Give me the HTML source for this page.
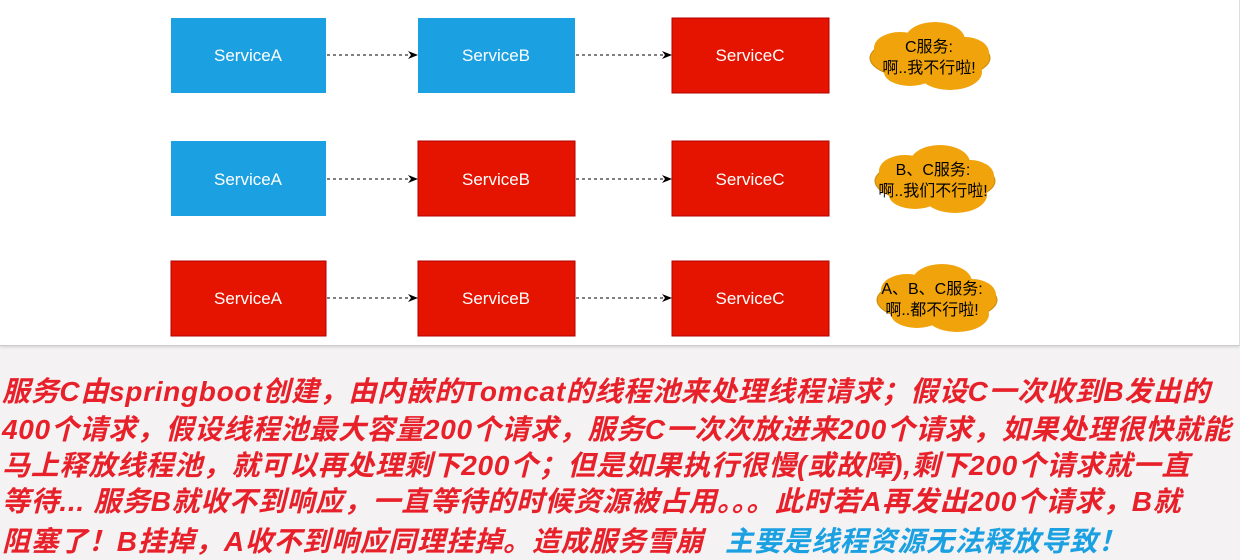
<!DOCTYPE html>
<html><head><meta charset="utf-8"><style>
body{margin:0;width:1240px;height:560px;background:#f4f2f3;overflow:hidden;position:relative;font-family:"Liberation Sans","Noto Sans CJK SC",sans-serif}
.top{position:absolute;left:0;top:0;width:1239px;height:345px;background:#fff;border-right:1px solid #ddd;border-bottom:1px solid #ccc;box-shadow:0 1px 3px rgba(0,0,0,.15)}
.l{position:absolute;left:2px;white-space:nowrap;font-size:28px;font-weight:bold;font-style:italic;color:#e8202a;line-height:36px;font-family:"Liberation Sans","Noto Sans CJK SC",sans-serif;letter-spacing:0.7px}
.b{color:#1ba1e2}
</style></head><body>
<div class="top">
<svg width="1240" height="345" xmlns="http://www.w3.org/2000/svg" font-family="Liberation Sans, Noto Sans CJK SC, sans-serif">
<defs><marker id="a" markerWidth="10" markerHeight="10" refX="9" refY="5" orient="auto" markerUnits="userSpaceOnUse"><path d="M0,1 L10,5 L0,9 L3,5 Z" fill="#000"/></marker>
<g id="cl"><ellipse cx="0" cy="0" rx="60" ry="22" fill="#f0a30a" stroke="#c98a08"/><ellipse cx="-30" cy="-10" rx="26" ry="16" fill="#f0a30a"/><ellipse cx="5" cy="-18" rx="30" ry="18" fill="#f0a30a"/><ellipse cx="35" cy="-5" rx="24" ry="16" fill="#f0a30a"/><ellipse cx="-20" cy="14" rx="26" ry="14" fill="#f0a30a"/><ellipse cx="20" cy="14" rx="32" ry="18" fill="#f0a30a"/></g></defs>
<g font-size="17" fill="#fff" text-anchor="middle">
<rect x="171" y="18" width="155" height="75" fill="#1ba1e2"/><text x="248" y="61">ServiceA</text>
<rect x="418" y="18" width="157" height="75" fill="#1ba1e2"/><text x="496" y="61">ServiceB</text>
<rect x="672" y="18" width="157" height="75" fill="#e51400" stroke="#b20000"/><text x="750" y="61">ServiceC</text>
<rect x="171" y="141" width="155" height="75" fill="#1ba1e2"/><text x="248" y="185">ServiceA</text>
<rect x="418" y="141" width="157" height="75" fill="#e51400" stroke="#b20000"/><text x="496" y="185">ServiceB</text>
<rect x="672" y="141" width="157" height="75" fill="#e51400" stroke="#b20000"/><text x="750" y="185">ServiceC</text>
<rect x="171" y="261" width="155" height="75" fill="#e51400" stroke="#b20000"/><text x="248" y="304">ServiceA</text>
<rect x="418" y="261" width="157" height="75" fill="#e51400" stroke="#b20000"/><text x="496" y="304">ServiceB</text>
<rect x="672" y="261" width="157" height="75" fill="#e51400" stroke="#b20000"/><text x="750" y="304">ServiceC</text>
</g>
<g stroke="#000" stroke-dasharray="3,3" marker-end="url(#a)">
<line x1="327" y1="55" x2="417" y2="55"/><line x1="576" y1="55" x2="671" y2="55"/>
<line x1="327" y1="179" x2="417" y2="179"/><line x1="576" y1="179" x2="671" y2="179"/>
<line x1="327" y1="298" x2="417" y2="298"/><line x1="576" y1="298" x2="671" y2="298"/>
</g>
<use href="#cl" x="930" y="58"/><use href="#cl" x="935" y="181"/><use href="#cl" x="937" y="300"/>
<g font-size="16" fill="#000" text-anchor="middle">
<text x="929" y="52">C服务:</text><text x="929" y="73">啊..我不行啦!</text>
<text x="933" y="175">B、C服务:</text><text x="933" y="196">啊..我们不行啦!</text>
<text x="932" y="294">A、B、C服务:</text><text x="932" y="315">啊..都不行啦!</text>
</g>
</svg>
</div>
<div class="l" style="top:374px">服务C由springboot创建，由内嵌的Tomcat的线程池来处理线程请求；假设C一次收到B发出的</div>
<div class="l" style="top:412px">400个请求，假设线程池最大容量200个请求，服务C一次次放进来200个请求，如果处理很快就能</div>
<div class="l" style="top:448px">马上释放线程池，就可以再处理剩下200个；但是如果执行很慢(或故障),剩下200个请求就一直</div>
<div class="l" style="top:484px">等待... 服务B就收不到响应，一直等待的时候资源被占用。。。此时若A再发出200个请求，B就</div>
<div class="l" style="top:524px">阻塞了！B挂掉，A收不到响应同理挂掉。造成服务雪崩</div>
<div class="l b" style="top:524px;left:725px">主要是线程资源无法释放导致！</div>
</body></html>
